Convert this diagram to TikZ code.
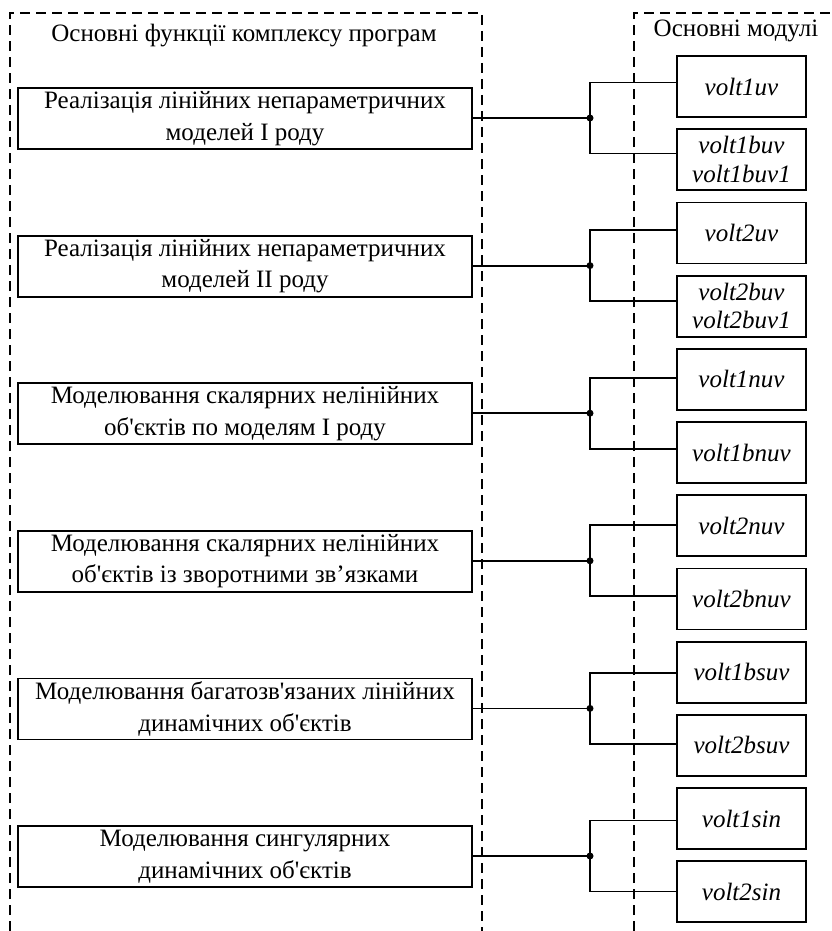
\documentclass[tikz,border=0pt]{standalone}
\usepackage{fontspec}
\setmainfont{Liberation Serif}[Ligatures=TeXOff]
\begin{document}
\begin{tikzpicture}[x=1pt,y=-1pt,
  fbox/.style={draw,line width=1.8pt,minimum width=454pt,minimum height=61pt,inner sep=0pt,align=center,font=\fontsize{25}{31.5}\selectfont},
  mbox/.style={draw,line width=1.8pt,minimum width=129pt,minimum height=61pt,inner sep=0pt,align=center,font=\fontsize{25}{28.5}\selectfont\itshape},
  frame/.style={line width=1.2pt,dash pattern=on 10pt off 6pt},
  conn/.style={line width=1.8pt},
  title/.style={font=\fontsize{25}{28}\selectfont,anchor=base,inner sep=0pt},
  dot/.style={circle,fill,inner sep=0pt,minimum size=7pt}]
\useasboundingbox (0,0) rectangle (832,931);
% frames
\draw[frame] (10,931) -- (10,13) -- (482,13) -- (482,931);
\draw[frame] (634,931) -- (634,13) -- (832,13);
\node[title] (t1) at (244,42) {Основні функції комплексу програм};
\node[title] (t2) at (736,37) {Основні модулі};
% left boxes
\node[fbox] (f1) at (245,118.5) {Реалізація лінійних непараметричних\\моделей I роду};
\node[fbox] (f2) at (245,266.1) {Реалізація лінійних непараметричних\\моделей II роду};
\node[fbox] (f3) at (245,413.7) {Моделювання скалярних нелінійних\\об'єктів по моделям I роду};
\node[fbox] (f4) at (245,561.3) {Моделювання скалярних нелінійних\\об'єктів із зворотними зв’язками};
\node[fbox] (f5) at (245,708.9) {Моделювання багатозв'язаних лінійних\\динамічних об'єктів};
\node[fbox] (f6) at (245,856.5) {Моделювання сингулярних\\динамічних об'єктів};
% modules
\node[mbox] (m1)  at (741.5,86.5)  {volt1uv};
\node[mbox] (m2)  at (741.5,159.7) {volt1buv\\volt1buv1};
\node[mbox] (m3)  at (741.5,232.9) {volt2uv};
\node[mbox] (m4)  at (741.5,306.1) {volt2buv\\volt2buv1};
\node[mbox] (m5)  at (741.5,379.3) {volt1nuv};
\node[mbox] (m6)  at (741.5,452.5) {volt1bnuv};
\node[mbox] (m7)  at (741.5,525.7) {volt2nuv};
\node[mbox] (m8)  at (741.5,598.9) {volt2bnuv};
\node[mbox] (m9)  at (741.5,672.1) {volt1bsuv};
\node[mbox] (m10) at (741.5,745.3) {volt2bsuv};
\node[mbox] (m11) at (741.5,818.5) {volt1sin};
\node[mbox] (m12) at (741.5,891.7) {volt2sin};
% connectors
\foreach \g/\J in {1/118,2/265.6,3/413.2,4/560.8,5/708.4,6/856}{
  \coordinate (j\g) at (590,\J);
  \coordinate (u\g) at (590,\J-35.5);
  \coordinate (d\g) at (590,\J+35.5);
}
\foreach \g in {1,...,6}{
  \pgfmathtruncatemacro{\a}{2*\g-1}
  \pgfmathtruncatemacro{\b}{2*\g}
  \draw[conn] (f\g.east |- j\g) -- (j\g);
  \draw[conn] (u\g -| m\a.west) -- (u\g) -- (d\g) -- (d\g -| m\b.west);
  \node[dot] (k\g) at (j\g) {};
}
\end{tikzpicture}
\end{document}
